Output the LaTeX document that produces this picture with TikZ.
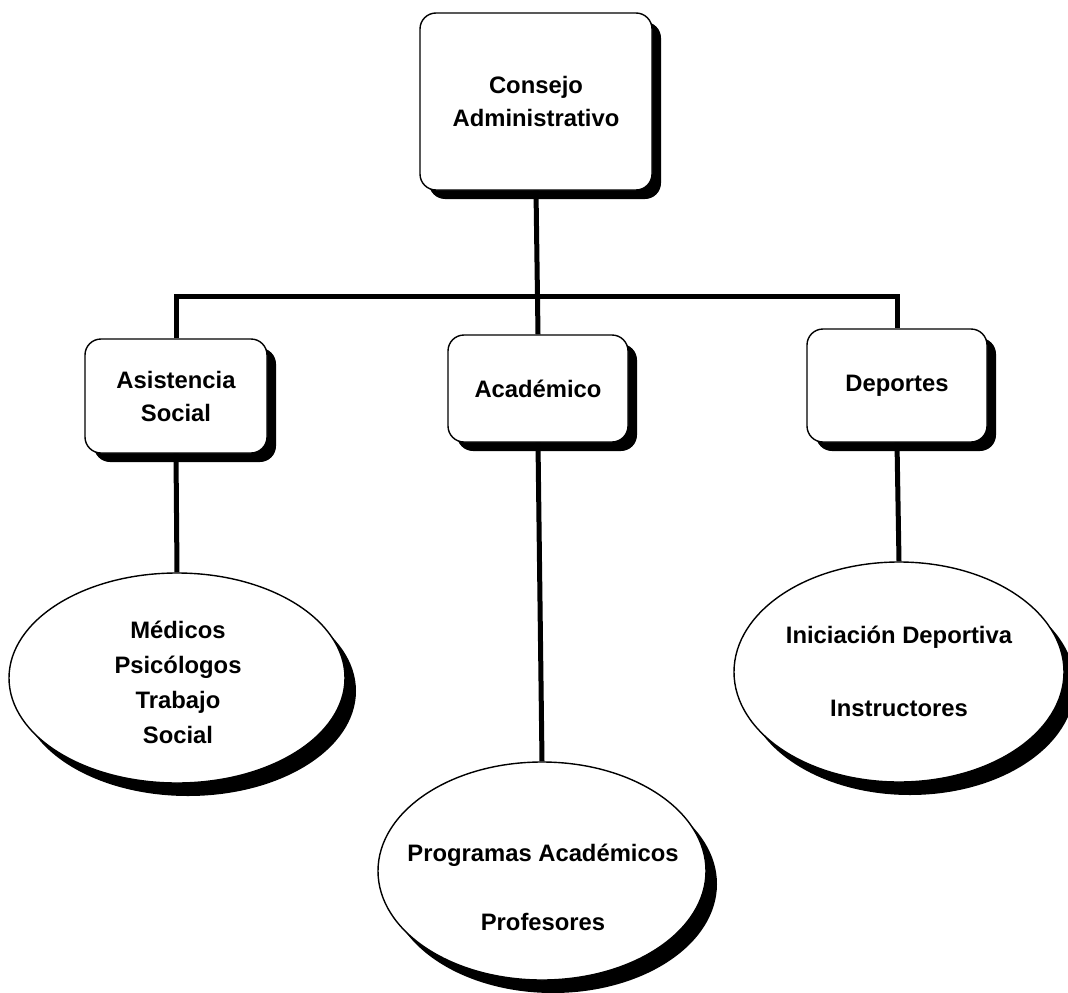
\documentclass[tikz,border=0pt]{standalone}
\usepackage{fontspec}
\setmainfont{Liberation Sans}
\usetikzlibrary{shapes.geometric,shadows}
\begin{document}
\begin{tikzpicture}[x=1pt,y=-1pt,
  txt/.style={font=\fontsize{23.8}{33}\selectfont\bfseries},
  box/.style={txt, draw=black, line width=1.4pt, fill=white, rounded corners=16pt,
    inner sep=0pt, align=center,
    drop shadow={shadow xshift=9pt, shadow yshift=-9pt, fill=black, opacity=1}},
  ell/.style={ellipse, draw=black, line width=1.4pt, fill=white, inner sep=0pt,
    drop shadow={shadow xshift=11pt, shadow yshift=-13pt, fill=black, opacity=1}},
  lbl/.style={txt, align=center, inner sep=0pt},
  conn/.style={draw=black, line width=5pt}]
\useasboundingbox (0,0) rectangle (1068,993);

% boxes
\node[box, minimum width=232pt, minimum height=177pt] (top) at (536,101.5) {Consejo\\Administrativo};
\node[box, minimum width=182pt, minimum height=114pt] (asis) at (176,396) {Asistencia\\Social};
\node[box, minimum width=180pt, minimum height=107pt] (acad) at (538,388.5) {Académico};
\node[box, minimum width=180pt, minimum height=113pt] (dep) at (897,385.5) {Deportes};

% ellipses
\node[ell, minimum width=336pt, minimum height=210pt] (med) at (177,678) {};
\node[lbl, font=\fontsize{23.8}{35}\selectfont\bfseries] (medt) at (178,682) {Médicos\\Psicólogos\\Trabajo\\Social};

\node[ell, minimum width=330pt, minimum height=220pt] (ini) at (899,672) {};
\node[lbl, font=\fontsize{23.8}{36}\selectfont\bfseries] (init) at (899,671) {Iniciación Deportiva\\[37pt]Instructores};

\node[ell, minimum width=328pt, minimum height=218pt] (prog) at (542,871) {};
\node[lbl] (progt) at (543,887) {Programas Académicos\\[36pt]Profesores};

% connectors
\coordinate (bus) at (537,296);
\draw[conn] (top.south) -- (acad.north);
\draw[conn] (asis.north) |- (bus) -| (dep.north);
\draw[conn] (asis.south) -- (med.north);
\draw[conn] (acad.south) -- (prog.north);
\draw[conn] (dep.south) -- (ini.north);
\end{tikzpicture}
\end{document}
